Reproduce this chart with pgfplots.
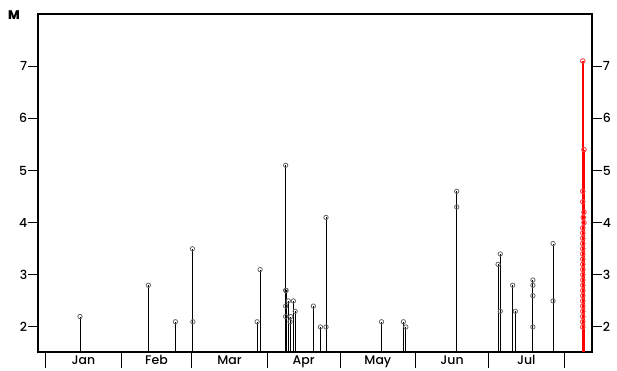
\documentclass[border=0pt]{standalone}
\usepackage{pgfplots}
\pgfplotsset{compat=1.18}
\usepackage{fontspec}
\setmainfont{Poppins}
\newfontfamily\pmed{Poppins Medium}
\begin{document}
\begin{tikzpicture}[x=1pt,y=1pt]
\begin{axis}[
 scale only axis, width=554pt, height=338pt,
 xmin=-3.16, xmax=224.5, ymin=1.52, ymax=8,
 axis line style={line width=2.7pt},
 tick align=outside,
 tick style={line width=1pt, black},
 ytick={2,3,4,5,6,7}, ytick pos=left,
 ytick style={/pgfplots/major tick length=10pt},
 xtick={0,31,60,91,121,152,182,213}, xticklabels={}, xtick pos=bottom,
 xtick style={/pgfplots/major tick length=16pt},
 extra x ticks={15.5,45.5,75.5,106,136.5,167,197.5},
 extra x tick labels={Jan,Feb,Mar,Apr,May,Jun,Jul},
 extra x tick style={major tick length=0pt, tick style={draw=none}},
 tick label style={font=\pmed\fontsize{12.5}{14}\selectfont},
 yticklabel style={xshift=-3pt},
 xticklabel style={inner sep=0.5pt, yshift=-3pt},
 /pgf/number format/assume math mode=true,
 clip=true,
]
\addplot[ycomb, black, line width=0.9pt, mark=o, mark size=2.2pt,
  mark options={black!60, line width=0.8pt, solid}] coordinates {
 (14.1,2.2) (42.2,2.8) (53.3,2.1) (60.3,3.5) (60.5,2.1)
 (86.9,2.1) (88.1,3.1)
 (98.6,5.1) (98.6,2.7) (98.8,2.7) (98.6,2.4) (98.6,2.2)
 (99.7,2.5) (100.4,2.1) (100.7,2.2) (101.8,2.5) (102.5,2.3)
 (110,2.4) (112.9,2.0) (115.2,4.1) (115.2,2.0)
 (138,2.1) (147,2.1) (148,2.0)
 (168.9,4.6) (168.9,4.3)
 (185.9,3.2) (186.8,3.4) (186.8,2.3)
 (191.9,2.8) (193,2.3)
 (200.2,2.9) (200.2,2.8) (200.2,2.6) (200.2,2.0)
 (208.5,3.6) (208.5,2.5)
};
\addplot[ycomb, red, line width=2pt, mark=o, mark size=2.3pt,
  mark options={red!75, line width=0.9pt, solid}] coordinates {
 (220.7,2.0) (220.7,2.1) (220.7,2.2) (220.7,2.3) (220.7,2.4)
 (220.7,2.5) (220.7,2.6) (220.7,2.7) (220.7,2.8) (220.7,2.9)
 (220.7,3.0) (220.7,3.1) (220.7,3.2) (220.7,3.3) (220.7,3.4)
 (220.7,3.5) (220.7,3.6) (220.7,3.7) (220.7,3.8) (220.7,3.9)
 (221.2,4.0) (220.9,4.1) (221.2,4.2) (220.7,4.4) (220.7,4.6)
 (221.2,5.4) (220.7,7.1)
};
\end{axis}
\begin{axis}[
 scale only axis, width=554pt, height=338pt,
 xmin=-3.16, xmax=224.5, ymin=1.52, ymax=8,
 axis x line=none, axis y line*=right,
 axis line style={line width=2.7pt, -},
 tick align=outside,
 tick style={line width=1pt, black},
 ytick={2,3,4,5,6,7},
 ytick style={/pgfplots/major tick length=10pt},
 tick label style={font=\pmed\fontsize{12.5}{14}\selectfont},
 yticklabel style={xshift=3pt},
 /pgf/number format/assume math mode=true,
]
\end{axis}
\node[font=\pmed\bfseries\fontsize{12.5}{14}\selectfont] at (-24,337) {M};
\pgfresetboundingbox
\path[use as bounding box] (-38,-18) rectangle (579,352);
\end{tikzpicture}
\end{document}
